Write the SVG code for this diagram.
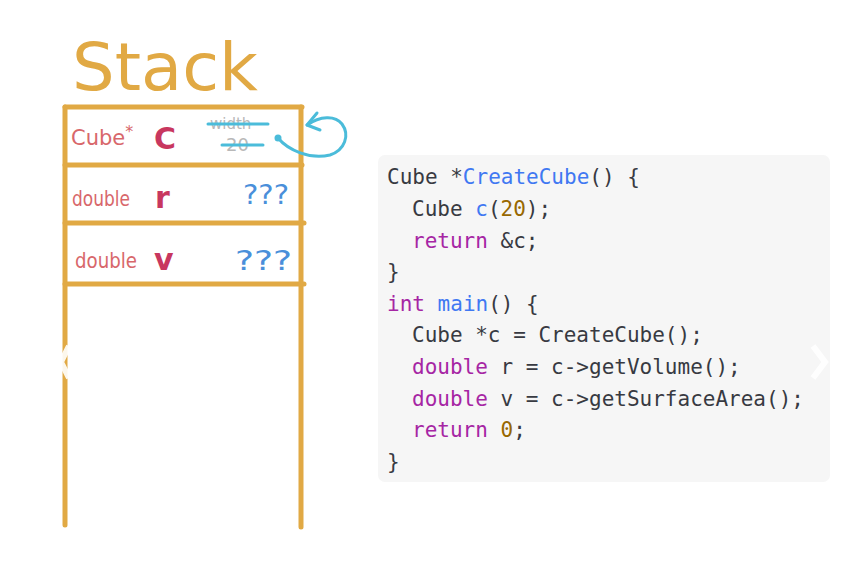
<svg xmlns="http://www.w3.org/2000/svg" width="856" height="566" viewBox="0 0 856 566">
<style>
.frame{stroke:#E1A944;stroke-width:5;stroke-linecap:round;fill:none}
.hand{font-family:"DejaVu Sans","Liberation Sans",sans-serif}
.type{fill:#D8676B;font-size:21px}
.var{fill:#C8375F;font-size:30px;font-weight:bold}
.q{fill:#4A8FDA;font-size:26px}
.code{font-family:"DejaVu Sans Mono","Liberation Mono",monospace;font-size:21px;fill:#383A42}
.kw{fill:#A626A4}.fn{fill:#4078F2}.num{fill:#986801}
.cyan{stroke:#4BBCDA;stroke-width:3;fill:none;stroke-linecap:round;stroke-linejoin:round}
</style>
<rect width="856" height="566" fill="#ffffff"/>
<g id="title">
<text class="hand" x="72" y="90" font-size="66" fill="#E1A944" textLength="186" lengthAdjust="spacingAndGlyphs">Stack</text>
</g>
<g id="stack-frame">
<line class="frame" x1="65" y1="107" x2="65" y2="525"/>
<line class="frame" x1="301" y1="107" x2="301" y2="527"/>
<line class="frame" x1="65" y1="107" x2="302" y2="107"/>
<line class="frame" x1="65" y1="165" x2="302" y2="165"/>
<line class="frame" x1="65" y1="223" x2="304" y2="223"/>
<line class="frame" x1="65" y1="284" x2="304" y2="284"/>
</g>
<g id="row-c">
<text class="hand type" x="71" y="145">Cube<tspan font-size="16" dy="-8">*</tspan></text>
<text class="hand var" x="154" y="149">C</text>
<text class="hand" x="210" y="129" font-size="15" fill="#B8B8B8">width</text>
<text class="hand" x="226" y="151" font-size="18" fill="#B8B8B8">20</text>
<line class="cyan" x1="208" y1="124" x2="268" y2="124"/>
<line class="cyan" x1="222" y1="145" x2="263" y2="145"/>
</g>
<g id="row-r">
<text class="hand type" x="72" y="206" textLength="58" lengthAdjust="spacingAndGlyphs">double</text>
<text class="hand var" x="155" y="208">r</text>
<text class="hand q" x="243" y="204" textLength="46" lengthAdjust="spacingAndGlyphs">???</text>
</g>
<g id="row-v">
<text class="hand type" x="75" y="268" textLength="62" lengthAdjust="spacingAndGlyphs">double</text>
<text class="hand var" x="154" y="270">v</text>
<text class="hand q" x="235" y="270" font-size="29" textLength="57" lengthAdjust="spacingAndGlyphs">???</text>
</g>
<g id="connectors">
<circle cx="278" cy="138" r="3.5" fill="#4BBCDA"/>
<path class="cyan" d="M278,138 C288,150 310,160 330,155 C345,150 350,135 342,124 C335,115 320,116 307,125"/>
<path class="cyan" d="M317,113 L307,125 L320,130"/>
</g>
<g id="code">
<rect x="378" y="155" width="452" height="327" rx="7" fill="#F6F6F6"/>
<text class="code" x="387" y="184">Cube *<tspan class="fn">CreateCube</tspan>() {</text>
<text class="code" x="412" y="216">Cube <tspan class="fn">c</tspan>(<tspan class="num">20</tspan>);</text>
<text class="code" x="412" y="248"><tspan class="kw">return</tspan> &amp;c;</text>
<text class="code" x="387" y="279">}</text>
<text class="code" x="387" y="311"><tspan class="kw">int</tspan> <tspan class="fn">main</tspan>() {</text>
<text class="code" x="412" y="342">Cube *c = CreateCube();</text>
<text class="code" x="412" y="374"><tspan class="kw">double</tspan> r = c-&gt;getVolume();</text>
<text class="code" x="412" y="406"><tspan class="kw">double</tspan> v = c-&gt;getSurfaceArea();</text>
<text class="code" x="412" y="437"><tspan class="kw">return</tspan> <tspan class="num">0</tspan>;</text>
<text class="code" x="387" y="469">}</text>
</g>
<g id="nav" fill="none" stroke="#ffffff" stroke-width="6" opacity="0.9" stroke-linejoin="miter">
<path d="M69,346 L61,362 L69,378"/>
<path d="M813,346 L825,362 L813,378"/>
</g>
</svg>
